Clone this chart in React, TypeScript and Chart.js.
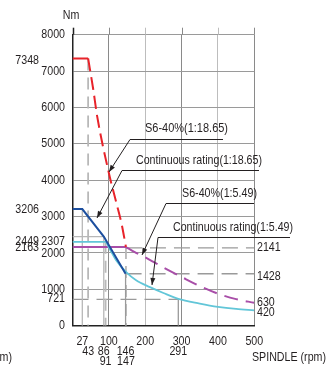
import { useEffect, useRef } from 'react';
import { Chart, registerables } from 'chart.js';
Chart.register(...registerables);

// ---- data ----
const xGridTicks = [0, 100, 200, 300, 400, 500];
const yGridTicks = [0, 1000, 2000, 3000, 4000, 5000, 6000, 7000, 8000];

// S6-40% (1:18.65) - red
const s6HighFlatX = [0, 43];
const s6HighFlatY = [7348, 7348];
const s6HighDropX = [43, 57, 68, 100, 120, 135, 147];
const s6HighDropY = [7348, 6500, 5750, 4200, 3400, 2800, 2163];

// Continuous rating (1:18.65) - dark blue
const contHighX = [0, 27, 86, 146];
const contHighY = [3206, 3206, 2449, 1428];

// Continuous rating (1:5.49) - cyan
const contLowX = [0, 91, 100, 120, 147, 175, 213, 250, 291, 350, 400, 450, 500];
const contLowY = [2307, 2307, 2150, 1800, 1480, 1250, 1060, 900, 740, 610, 520, 460, 420];

// S6-40% (1:5.49) - purple
const s6LowFlatX = [0, 147];
const s6LowFlatY = [2163, 2163];
const s6LowDashX = [147, 170, 200, 250, 300, 350, 400, 450, 500];
const s6LowDashY = [2163, 2030, 1880, 1600, 1340, 1090, 880, 730, 630];

// guide lines
const guideVX = [27, 43, 86, 91, 146, 147, 291];
const guideVTop = [3206, 7348, 2449, 2307, 1428, 2163, 721];
const guideHY = [2449, 2141, 1428, 721];
const guideHFrom = [0, 147, 146, 0];
const guideHTo = [86, 500, 500, 291];

// tick labels
const xLabelsRow1 = [27, 100, 200, 300, 400, 500];
const xLabelsRow2 = [43, 86, 146, 291];
const xLabelsRow3 = [91, 147];
const yLabelsMain = [0, 1000, 2000, 3000, 4000, 5000, 6000, 7000, 8000];
const yLabelsInner = [2307, 721];
const yLabelsOuter = [7348, 3206, 2449, 2163];
const yLabelsRight = [2141, 1428, 630, 420];

const seriesNames = [
  'S6-40%(1:18.65)',
  'Continuous rating(1:18.65)',
  'S6-40%(1:5.49)',
  'Continuous rating(1:5.49)',
];

const pts = (xs: number[], ys: number[]) => xs.map((x, i) => ({ x, y: ys[i] }));

const FONT = '"Liberation Sans", Arial, Helvetica, sans-serif';

function txt(
  ctx: CanvasRenderingContext2D,
  s: string,
  x: number,
  y: number,
  align: CanvasTextAlign,
  size = 13,
  squeeze = 0.82,
  maxW?: number
) {
  ctx.font = `${size}px ${FONT}`;
  ctx.textAlign = align;
  ctx.textBaseline = 'middle';
  const w = ctx.measureText(s).width;
  ctx.fillText(s, x, y, maxW ?? w * squeeze);
}

const overlay = {
  id: 'overlay',
  afterDraw(chart: any) {
    const ctx: CanvasRenderingContext2D = chart.ctx;
    const xs = chart.scales.x;
    const ys = chart.scales.y;
    const ca = chart.chartArea;
    ctx.save();
    // grid extension above top
    ctx.lineWidth = 1;
    xGridTicks.forEach((v) => {
      const px = Math.round(xs.getPixelForValue(v)) + 0.5;
      ctx.strokeStyle = v === 0 ? '#222' : v % 200 === 0 ? '#bdbdbd' : '#8a8a8a';
      ctx.lineWidth = v === 0 ? 1.5 : 1;
      ctx.beginPath();
      ctx.moveTo(px, ca.top - 7);
      ctx.lineTo(px, ca.top);
      ctx.stroke();
    });

    ctx.fillStyle = '#231f20';
    // y labels
    yLabelsMain.forEach((v) => txt(ctx, String(v), 65, ys.getPixelForValue(v), 'right'));
    yLabelsInner.forEach((v) => txt(ctx, String(v), 65, ys.getPixelForValue(v) + (v === 721 ? -1 : 0), 'right'));
    yLabelsOuter.forEach((v) =>
      txt(ctx, String(v), 39, ys.getPixelForValue(v) + (v === 2449 ? 5 : v === 7348 ? 2 : 0), 'right')
    );
    yLabelsRight.forEach((v) =>
      txt(ctx, String(v), 257, ys.getPixelForValue(v) + (v === 1428 ? 3 : v === 420 ? 2 : 0), 'left')
    );
    // x labels
    xLabelsRow1.forEach((v) => txt(ctx, String(v), xs.getPixelForValue(v), 341, 'center'));
    xLabelsRow2.forEach((v) => txt(ctx, String(v), xs.getPixelForValue(v), 351, 'center'));
    xLabelsRow3.forEach((v) => txt(ctx, String(v), xs.getPixelForValue(v), 361, 'center'));

    // axis titles
    txt(ctx, 'Nm', 71, 15, 'center');
    txt(ctx, 'SPINDLE (rpm)', 326, 357, 'right', 13, 0.82, 74);
    txt(ctx, '(rpm)', 12, 357, 'right');

    // annotations
    const ann = [
      { t: seriesNames[0], tx: 145, ty: 128, tw: 83, ux0: 130, ux1: 223, uy: 139, ax: 109, ay: 172 },
      { t: seriesNames[1], tx: 136, ty: 160, tw: 126, ux0: 122, ux1: 259, uy: 170, ax: 97, ay: 218 },
      { t: seriesNames[2], tx: 182, ty: 193, tw: 75, ux0: 166, ux1: 254, uy: 203, ax: 142, ay: 255 },
      { t: seriesNames[3], tx: 173, ty: 227, tw: 120, ux0: 158, ux1: 290, uy: 237, ax: 152, ay: 285 },
    ];
    ann.forEach((a) => {
      txt(ctx, a.t, a.tx, a.ty, 'left', 13, 0.82, a.tw);
      ctx.strokeStyle = '#231f20';
      ctx.lineWidth = 1;
      ctx.beginPath();
      ctx.moveTo(a.ux1, a.uy + 0.5);
      ctx.lineTo(a.ux0, a.uy + 0.5);
      ctx.lineTo(a.ax, a.ay);
      ctx.stroke();
      // arrow head
      const ang = Math.atan2(a.ay - a.uy, a.ax - a.ux0);
      const L = 7, W = 2.5;
      ctx.beginPath();
      ctx.moveTo(a.ax, a.ay);
      ctx.lineTo(a.ax - L * Math.cos(ang) + W * Math.sin(ang), a.ay - L * Math.sin(ang) - W * Math.cos(ang));
      ctx.lineTo(a.ax - L * Math.cos(ang) - W * Math.sin(ang), a.ay - L * Math.sin(ang) + W * Math.cos(ang));
      ctx.closePath();
      ctx.fillStyle = '#231f20';
      ctx.fill();
    });
    ctx.restore();
  },
};

const RED = '#e8232a';
const BLUE = '#1d4f9f';
const CYAN = '#62c6d8';
const PURPLE = '#a84ea8';
const GUIDE = '#b8b8b8';

export default function App() {
  const ref = useRef<HTMLCanvasElement>(null);
  useEffect(() => {
    const base = { pointRadius: 0, fill: false, tension: 0 };
    const datasets: any[] = [
      { ...base, data: pts(s6HighFlatX, s6HighFlatY), borderColor: RED, borderWidth: 2 },
      { ...base, data: pts(s6HighDropX, s6HighDropY), borderColor: RED, borderWidth: 2, borderDash: [13, 6], cubicInterpolationMode: 'monotone' },
      { ...base, data: pts(contHighX, contHighY), borderColor: BLUE, borderWidth: 2 },
      { ...base, data: pts(contLowX, contLowY), borderColor: CYAN, borderWidth: 1.8, cubicInterpolationMode: 'monotone' },
      { ...base, data: pts(s6LowFlatX, s6LowFlatY), borderColor: PURPLE, borderWidth: 2 },
      { ...base, data: pts(s6LowDashX, s6LowDashY), borderColor: PURPLE, borderWidth: 2, borderDash: [14, 8], cubicInterpolationMode: 'monotone' },
    ];
    const vDashed = new Set([43, 91, 147]);
    guideVX.forEach((x, i) => {
      datasets.push({
        ...base,
        data: pts([x, x], [guideVTop[i], 0]),
        borderColor: x === 291 || x === 146 ? '#9a9a9a' : GUIDE,
        borderWidth: vDashed.has(x) ? 1.8 : 1.3,
        borderDash: vDashed.has(x) ? [12, 7] : [],
      });
    });
    guideHY.forEach((y, i) => {
      datasets.push({
        ...base,
        data: pts([guideHFrom[i], guideHTo[i]], [y, y]),
        borderColor: y === 2449 ? GUIDE : '#9a9a9a',
        borderWidth: 1.3,
        borderDash: y === 2449 ? [] : [16, 8],
      });
    });

    const chart = new Chart(ref.current!, {
      type: 'line',
      data: { datasets },
      options: {
        responsive: false,
        animation: false,
        events: [],
        layout: { padding: { left: 72.5, right: 72.7, top: 34.7, bottom: 42.3 } },
        plugins: { legend: { display: false }, tooltip: { enabled: false } },
        scales: {
          x: {
            type: 'linear',
            min: 0,
            max: 500,
            ticks: { display: false, stepSize: 100 },
            grid: {
              drawTicks: false,
              lineWidth: 1,
              color: (c: any) => (c.tick && c.tick.value % 200 === 0 ? '#bdbdbd' : '#8a8a8a'),
            },
            border: { display: true, color: '#222', width: 1.5 },
            afterFit: (s: any) => {
              s.height = 0;
            },
          },
          y: {
            type: 'linear',
            min: 0,
            max: 8000,
            ticks: { display: false, stepSize: 1000 },
            grid: { drawTicks: false, lineWidth: 1, color: '#9a9a9a' },
            border: { display: true, color: '#222', width: 1.5 },
            afterFit: (s: any) => {
              s.width = 0;
            },
          },
        },
      } as any,
      plugins: [overlay],
    });
    return () => chart.destroy();
  }, []);
  return (
    <div style={{ position: 'fixed', left: 0, top: 0, width: 327, height: 368, background: '#fff' }}>
      <canvas ref={ref} width={327} height={368} style={{ display: 'block' }} />
    </div>
  );
}
